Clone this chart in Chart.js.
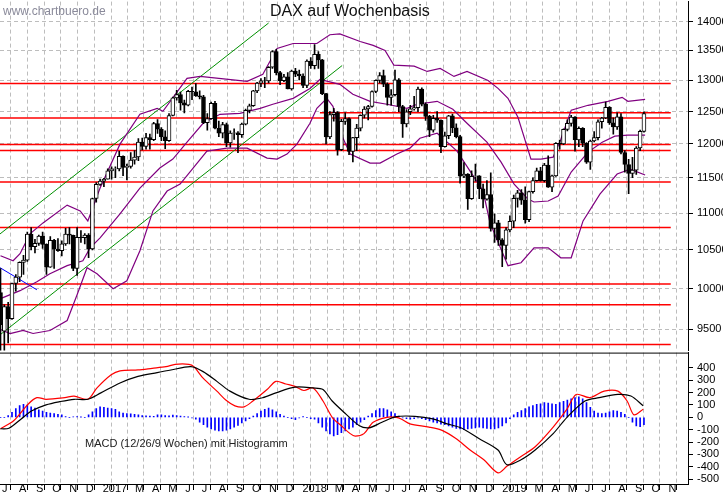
<!DOCTYPE html>
<html><head><meta charset="utf-8">
<script src="https://cdn.jsdelivr.net/npm/chart.js@4/dist/chart.umd.min.js"></script>
<style>
body{margin:0;background:#fff;width:723px;height:496px;overflow:hidden;position:relative;font-family:"Liberation Sans",Arial,sans-serif}
canvas{position:absolute;left:0}
.t{position:absolute;white-space:nowrap}
</style></head><body>
<canvas id="main" width="723" height="370" style="top:-9px"></canvas>
<canvas id="macd" width="723" height="154" style="top:342px"></canvas>
<div class="t" style="left:3px;top:4px;font-size:12px;color:#8a8a9a">www.chartbuero.de</div>
<div class="t" style="left:270px;top:2px;font-size:16px;color:#111">DAX auf Wochenbasis</div>
<div class="t" style="left:85px;top:437px;font-size:11px;color:#222">MACD (12/26/9 Wochen) mit Histogramm</div>
<script>
// weekly candles, week 0 = week ending 24 Jun 2016
const opens=[9950,9480,9776,9630,10066,10147,10337,10367,10713,10544,10588,10684,10573,10276,10627,10511,10490,10580,10711,10696,10259,10668,10664,10700,10513,11203,11404,11450,
11481,11599,11629,11630,11814,11651,11666,11757,11804,12027,11963,12095,12064,12313,12225,12109,12049,12438,12716,12770,12638,12602,12823,12815,12752,12733,12325,12389,12631,12240,12163,12298,12014,12165,12168,12142,12304,12519,12592,12829,12956,12992,12991,13218,13479,13127,12994,13060,12861,13154,13104,13072,
12918,13320,13245,13434,13340,12785,12107,12452,12484,11914,12346,12390,11886,12097,12241,12442,12540,12580,12820,13001,13078,12938,12724,12767,13011,12580,12306,12497,12541,12561,12860,12616,12425,12211,12395,12364,11960,12124,12431,12247,12112,11524,11554,11201,11519,11529,11342,11193,11257,10788,10866,10634,
10559,10768,10887,11205,11282,11181,10907,11300,11458,11602,11458,11686,11364,11526,12010,11999,12222,12315,12413,12060,12239,12011,11727,12045,12096,12340,12399,12568,12323,12260,12419,11872,11694,11563,11611,11939,12192];
const highs=[10258,9800,9830,10070,10180,10345,10430,10740,10800,10640,10700,10740,10580,10680,10640,10650,10620,10790,10800,10700,10800,10760,10720,10720,11210,11430,11480,11490,
11630,11660,11660,11890,11820,11700,11870,11900,12080,12090,12160,12150,12330,12375,12250,12200,12470,12730,12840,12810,12680,12840,12890,12950,12830,12760,12470,12650,12660,12350,12330,12320,12200,12230,12190,12320,12540,12620,12840,12970,13030,13050,13230,13500,13520,13150,13100,13130,13170,13200,13170,13110,
13340,13380,13600,13480,13350,12790,12500,12550,12500,12380,12480,12400,12100,12300,12450,12580,12600,12830,13010,13130,13170,12960,12850,13170,13030,12600,12530,12600,12740,12890,12880,12640,12440,12440,12500,12370,12180,12440,12460,12310,12130,11720,11560,11600,11700,11530,11410,11460,11570,10990,10900,10650,
10800,10960,11250,11320,11330,11370,11310,11500,11640,11650,11710,11820,11540,12020,12060,12230,12370,12440,12420,12260,12250,12020,12060,12190,12370,12410,12650,12580,12400,12480,12470,11900,11770,11800,11960,12210,12494];
const lows=[9226,9214,9340,9620,9970,10090,10180,10350,10500,10460,10560,10520,10180,10270,10260,10480,10420,10560,10580,10230,10170,10600,10580,10400,10500,11150,11390,11370,
11480,11480,11500,11600,11530,11470,11640,11700,11750,11910,11920,11920,12050,12160,12050,11930,12040,12430,12680,12520,12480,12590,12690,12740,12700,12310,12210,12380,12230,12110,12090,11960,11950,12070,11870,12100,12290,12480,12580,12800,12900,12880,12960,13200,13090,12930,12980,12860,12840,13060,13010,12880,
12880,13200,13190,13200,12770,12000,12080,12350,11830,11900,12300,11840,11730,11900,12200,12400,12370,12570,12800,12960,12900,12600,12600,12750,12500,12100,12260,12450,12520,12500,12590,12360,12110,12180,12330,11870,11950,12080,12170,12090,11420,11500,11050,11190,11450,11200,11070,11180,10750,10600,10560,10280,
10380,10740,10800,11080,11120,10860,10880,11280,11450,11450,11440,11360,11300,11520,11920,11990,12200,12270,11890,11960,11960,11710,11620,12030,12060,12240,12390,12300,12150,12220,11850,11580,11270,11500,11550,11900,12180];
const closes=[9557,9776,9630,10066,10147,10337,10367,10713,10544,10588,10684,10573,10276,10627,10511,10490,10580,10711,10696,10259,10668,10664,10700,10513,11203,11404,11450,11481,
11599,11629,11630,11814,11651,11666,11757,11804,12027,11963,12095,12064,12313,12225,12109,12049,12438,12716,12770,12638,12602,12823,12815,12752,12733,12325,12389,12631,12240,12163,12298,12014,12165,12168,12142,12304,12519,12592,12829,12956,12992,12991,13218,13479,13127,12994,13060,12861,13154,13104,13072,12918,
13320,13245,13434,13340,12785,12107,12452,12484,11914,12346,12390,11886,12097,12241,12442,12540,12580,12820,13001,13078,12938,12724,12767,13011,12580,12306,12497,12541,12561,12860,12616,12425,12211,12395,12364,11960,12124,12431,12247,12112,11524,11554,11201,11519,11529,11342,11193,11257,10788,10866,10634,10559,
10768,10887,11205,11282,11181,10907,11300,11458,11602,11458,11686,11364,11526,12010,11999,12222,12315,12413,12060,12239,12011,11727,12045,12096,12340,12399,12568,12323,12260,12419,11872,11694,11563,11611,11939,12192,12469];

// Bollinger bands: [week, value]
const bbUpper=[[0,10423],[3.3,10358],[5.1,10450],[7.7,10715],[11.1,10864],[17.4,11110],[20.8,11029],[22.8,10891],[26,11352],[31.2,11997],[36.4,12457],[40.9,12551],[42.4,12504],[48.7,13033],[52.1,13066],[64.4,12984],[68.5,13099],[72.2,13533],[76.4,13619],[82.6,13619],[86,13770],[88.6,13786],[93.9,13653],[97.3,13586],[100.4,13500],[102.7,13254],[108,13237],[111.4,13148],[114.8,13197],[118.4,13066],[121.8,13148],[127.3,13000],[129.9,12870],[132.5,12710],[135.1,12410],[138.5,11773],[141.1,11773],[144.3,11803],[146.3,12072],[149,12520],[153.4,12599],[158.6,12662],[162.3,12726],[163.8,12662],[168.3,12694]];
const bbMiddle=[[0,9876],[5.1,9975],[9.5,10088],[12.9,10190],[17.4,10294],[21.5,10358],[23.4,10528],[26,10661],[31.2,10988],[36.4,11352],[41.6,11641],[45,11773],[48.7,12027],[52.9,12317],[57.3,12457],[62.5,12472],[67.8,12551],[71.1,12615],[76.4,12710],[80.8,12870],[83.4,13016],[88.6,12935],[92,12774],[96.5,12662],[100.9,12615],[106.1,12551],[108.8,12615],[114,12662],[118.1,12535],[121.8,12317],[127,12027],[130.7,11729],[134.1,11409],[137.7,11196],[139.3,11154],[143,11168],[145.6,11238],[149,11583],[153.4,11877],[157.1,12027],[160.4,12118],[163.8,12133],[168.3,12133]];
const bbLower=[[0,9499],[2.5,9451],[5.9,9487],[8.5,9451],[12.9,9487],[17.4,9607],[20,9925],[22.6,10268],[25.2,10190],[29.4,10000],[33,10101],[36.4,10489],[39.8,11029],[43.5,11309],[46.9,11409],[53.9,11892],[59.1,11937],[64.4,11937],[69.6,11788],[72.2,11773],[74.8,11848],[77.4,11997],[80.8,12317],[82.6,12551],[85.2,12710],[86.8,12583],[88.6,12194],[91.3,11848],[96.5,11714],[99.1,11714],[103.5,11848],[106.9,11937],[109.5,12087],[114,12164],[115.5,12087],[119.2,11892],[122.6,11597],[126,11309],[127.8,10864],[132.5,10294],[135.9,10332],[139.3,10528],[143,10528],[146.3,10397],[149,10397],[152.1,10891],[156.5,11266],[161,11554],[164.4,11626],[168.3,11540]];

// horizontal support/resistance levels
const levels=[12950,12400,11990,11900,11440,10800,10060,9800,9320];
const shortLevel=12480;
const channelUpper=[[-0.13,10714],[70,13975]];
const channelLower=[[-0.13,9435],[89.2,13246]];
const blueLine=[[-0.13,10268],[9.5,9986]];
const priceTicks=[9500,10000,10500,11000,11500,12000,12500,13000,13500,14000];

// MACD panel
const macdSignal=[[0,-93],[2.2,-88],[5.4,-13],[8.2,53],[11.9,101],[15.5,127],[19.2,146],[22.8,146],[26.2,198],[31.2,278],[35.9,331],[40.9,362],[44.5,383],[49.7,410],[52.9,370],[56.5,291],[59.9,212],[64.9,146],[68.5,159],[71.9,198],[76.9,244],[81.6,238],[84.2,225],[86.6,132],[90.2,26],[93.6,-66],[96.2,-85],[99.6,-40],[103.3,5],[108.2,8],[112.9,-13],[116.6,-53],[120.2,-85],[124.9,-172],[129.9,-265],[132.2,-384],[135.9,-344],[139.6,-265],[144.3,-132],[147.9,0],[152.6,132],[156.3,159],[161.2,185],[164.6,172],[167.8,93]];
const macdLine=[[0,-93],[3.5,-26],[7.2,106],[9.5,159],[11.9,146],[16.8,159],[19.2,172],[22.8,146],[25.2,238],[28.9,344],[31.2,376],[35.9,384],[39.6,397],[43.2,410],[45.6,429],[49.2,429],[50.5,410],[52.9,317],[56.5,212],[58.9,138],[61.2,93],[63.6,85],[65.9,132],[69.6,225],[71.9,291],[74.5,270],[76.9,251],[79.2,217],[81.6,238],[84.2,132],[86.6,0],[88.9,-66],[91.3,-132],[92.6,-153],[94.9,-132],[97.3,-40],[100.9,0],[103.3,0],[104.6,-13],[106.9,-53],[111.9,-79],[115.3,-106],[118.9,-172],[122.6,-265],[126.2,-344],[129.9,-450],[132.2,-397],[135.9,-317],[139.6,-238],[144.3,-79],[147.9,66],[150.3,185],[153.9,159],[157.6,212],[161.2,212],[163.6,132],[165.4,20],[167.8,66]];
const histogram=[0,0,15,40,70,95,105,100,85,75,60,50,40,35,30,25,20,5,0,3,5,2,0,20,45,70,85,80,75,70,65,45,35,30,28,25,20,15,12,10,8,20,20,15,12,18,15,10,5,2,-5,-15,-40,-60,-80,-95,-105,-110,-110,-105,-95,-80,-65,-45,-30,-10,10,30,50,65,75,60,45,25,10,0,-10,-20,-5,5,0,-10,-15,-45,-80,-110,-135,-150,-140,-125,-110,-95,-80,-60,-40,-20,10,30,55,70,70,60,45,30,10,-5,-10,-15,-10,-5,-10,-20,-30,-40,-45,-55,-60,-70,-80,-90,-95,-100,-95,-90,-85,-80,-85,-90,-95,-95,-85,-70,-45,-10,20,40,55,70,85,95,105,110,120,115,110,105,120,130,140,150,160,165,150,120,80,50,35,30,35,45,55,50,40,25,0,-40,-70,-75,-60];
const macdTicks=[-500,-400,-300,-200,-100,0,100,200,300,400];

const monthLabels=['J','A','S','O','N','D','2017','','M','A','M','J','J','A','S','O','N','D','2018','','M','A','M','J','J','A','S','O','N','D','2019','','M','A','M','J','J','A','S','O','N'];
const startDate=Date.UTC(2016,5,24);
const monthTicks=monthLabels.map((l,k)=>((Date.UTC(2016,6+k,1)-startDate)/86400000)/7-0.6);

const XMIN=-0.13, XMAX=179.5;
const GRID='#bdbdbd';
const xy=a=>a.map(p=>({x:p[0],y:p[1]}));
const fixW=s=>{s.width=35;};

const wickData=closes.map((c,i)=>({x:i,y:[lows[i],highs[i]]}));
const bodyData=closes.map((c,i)=>({x:i,y:[Math.min(opens[i],c),Math.max(opens[i],c)]}));
const bodyColors=closes.map((c,i)=>c>=opens[i]?'#ffffff':'#000000');

const lineDs=(data,color,w,order)=>({type:'line',data:xy(data),borderColor:color,borderWidth:w,pointRadius:0,tension:0,order:order,fill:false});
const ds=[
 {type:'bar',data:bodyData,backgroundColor:bodyColors,borderColor:'#000',borderWidth:1,borderSkipped:false,barThickness:4,grouped:false,order:0},
 {type:'bar',data:wickData,backgroundColor:'#000',borderWidth:0,barThickness:1,grouped:false,order:1},
 lineDs(bbUpper,'#800080',1.2,2),lineDs(bbMiddle,'#800080',1.2,2),lineDs(bbLower,'#800080',1.2,2),
 lineDs(channelUpper,'#009000',1,2),lineDs(channelLower,'#009000',1,2),lineDs(blueLine,'#0000ff',1,2),
 lineDs([[83.4,shortLevel],[175,shortLevel]],'#ff0000',1.5,3)
];
levels.forEach(v=>ds.push(lineDs([[XMIN,v],[175,v]],'#ff0000',1.5,3)));

const monthAxis=(showLabels)=>({type:'linear',min:XMIN,max:XMAX,offset:false,
  afterBuildTicks:s=>{s.ticks=monthTicks.map(v=>({value:v}));},
  grid:{color:GRID,lineWidth:1,tickColor:'#000',tickLength:showLabels?6:0,drawTicks:showLabels},
  border:{display:showLabels,dash:[4,3],color:'#000'},
  ticks:{display:showLabels,autoSkip:false,maxRotation:0,align:'start',padding:-8,color:'#000',font:{family:'Liberation Sans',size:11},
    callback:(v,i)=>monthLabels[i]},
  afterFit:s=>{s.height=showLabels?12:0;}
});

new Chart(document.getElementById('main'),{
 type:'bar',data:{datasets:ds},
 options:{responsive:false,animation:false,events:[],
  plugins:{legend:{display:false},tooltip:{enabled:false}},
  scales:{
   x:monthAxis(false),
   y:{type:'logarithmic',position:'right',min:9252,max:14357,
    afterBuildTicks:s=>{s.ticks=priceTicks.map(v=>({value:v}));},
    grid:{color:GRID,tickColor:'#000',tickLength:5},border:{color:'#000',dash:[4,3]},
    ticks:{autoSkip:false,color:'#000',padding:4,font:{family:'Liberation Sans',size:11},callback:v=>String(v)},
    afterFit:fixW}
  }}
});

new Chart(document.getElementById('macd'),{
 type:'bar',
 data:{datasets:[
  {type:'bar',data:histogram.map((v,i)=>({x:i,y:v})),backgroundColor:'#0000ff',barThickness:1,grouped:false,order:3},
  {type:'line',data:xy(macdSignal),borderColor:'#000',borderWidth:1.2,pointRadius:0,tension:0.3,order:1},
  {type:'line',data:xy(macdLine),borderColor:'#ff0000',borderWidth:1.2,pointRadius:0,tension:0.3,order:2}
 ]},
 options:{responsive:false,animation:false,events:[],
  plugins:{legend:{display:false},tooltip:{enabled:false}},
  scales:{
   x:monthAxis(true),
   y:{type:'linear',position:'right',min:-540,max:524,
    afterBuildTicks:s=>{s.ticks=macdTicks.map(v=>({value:v}));},
    grid:{drawOnChartArea:false,tickColor:'#000',tickLength:5},border:{color:'#000'},
    ticks:{autoSkip:false,color:'#000',padding:4,font:{family:'Liberation Sans',size:11},callback:v=>String(v)},
    afterFit:fixW}
  }},
 plugins:[{id:'topline',afterDraw(c){const g=c.ctx,a=c.chartArea;g.save();g.strokeStyle='#000';g.lineWidth=1;g.beginPath();g.moveTo(0,a.top+0.5);g.lineTo(a.right,a.top+0.5);g.stroke();g.restore();}}]
});
</script>
</body></html>
